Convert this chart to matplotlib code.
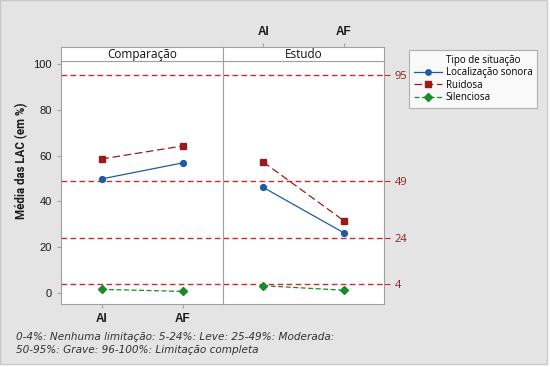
import matplotlib.pyplot as plt
from matplotlib.lines import Line2D
from matplotlib.patches import Rectangle

# Data
panels = ["Comparação", "Estudo"]
moments = ["AI", "AF"]
series = ["Localização sonora", "Ruidosa", "Silenciosa"]
comparacao = {
    "Localização sonora": [49.8, 56.8],
    "Ruidosa": [58.5, 64.2],
    "Silenciosa": [1.6, 0.7],
}
estudo = {
    "Localização sonora": [46.1, 26.3],
    "Ruidosa": [57.2, 31.6],
    "Silenciosa": [3.2, 1.2],
}
ref_lines = [95, 49, 24, 4]
yticks = [0, 20, 40, 60, 80, 100]
footnote = ("0-4%: Nenhuma limitação: 5-24%: Leve: 25-49%: Moderada:\n"
            "50-95%: Grave: 96-100%: Limitação completa")

styles = {
    "Localização sonora": dict(color="#1f5aa6", marker="o", ls="-", ms=4.2),
    "Ruidosa": dict(color="#9b1b1b", marker="s", ls=(0, (6, 3)), ms=5),
    "Silenciosa": dict(color="#1a8a2a", marker="D", ls=(0, (4, 2)), ms=4.2),
}
ref_color = "#cc2a2a"
frame_color = "#a0a0a0"
bg = "#e4e4e4"
tick_font = dict(family="Liberation Sans", size=8)

fig = plt.figure(figsize=(5.5, 3.67), dpi=100, facecolor="white")
fig.patches.append(Rectangle((0.0, 0.008), 0.995, 0.992, transform=fig.transFigure,
                             facecolor=bg, edgecolor="#c8c8c8", lw=1, zorder=-10))

x0, xm, x1 = 61 / 550, 223 / 550, 384 / 550
yb, yt, ys = 1 - 304 / 367, 1 - 61 / 367, 1 - 47 / 367

axes = []
for i, (name, data) in enumerate(zip(panels, [comparacao, estudo])):
    left = x0 if i == 0 else xm
    width = (xm - x0) if i == 0 else (x1 - xm)
    ax = fig.add_axes([left, yb, width, yt - yb])
    ax.set_xlim(-0.5, 1.5)
    ax.set_ylim(-4.8, 101.3)
    for r in ref_lines:
        ax.axhline(r, color=ref_color, ls=(0, (4, 2.5)), lw=1, zorder=1)
    for s in series:
        st = styles[s]
        ax.plot(range(len(moments)), data[s], color=st["color"], ls=st["ls"], lw=0.9,
                marker=st["marker"], ms=st["ms"], zorder=3)
    for sp in ax.spines.values():
        sp.set_color(frame_color)
        sp.set_linewidth(0.8)
    ax.tick_params(colors=frame_color, length=3, width=0.8, labelcolor="#1a1a1a")
    if i == 0:
        ax.set_xticks(range(len(moments)))
        ax.set_xticklabels(moments, fontweight="bold", fontsize=8.5, family="Liberation Sans")
        ax.set_yticks(yticks)
        ax.set_yticklabels([str(v) for v in yticks], **tick_font)
        ax.set_ylabel("Média das LAC (em %)", fontsize=8.3, fontweight="bold",
                      family="Roboto", color="#1a1a1a")
        ax.yaxis.set_label_coords(-0.205, 0.59)
    else:
        ax.set_xticks([])
        ax.yaxis.tick_right()
        ax.set_yticks(ref_lines)
        ax.set_yticklabels([str(v) for v in ref_lines], family="Open Sans", size=8)
        ax.tick_params(axis="y", colors=ref_color, labelcolor="#8b2020", length=4)
    # strip
    sax = fig.add_axes([left, yt, width, ys - yt])
    sax.set_xlim(-0.5, 1.5)
    sax.set_ylim(0, 1)
    sax.set_yticks([])
    sax.text(0.5, 0.45, name, ha="center", va="center", fontsize=8.5,
             family="Open Sans", color="#111111")
    for sp in sax.spines.values():
        sp.set_color(frame_color)
        sp.set_linewidth(0.8)
    if i == 1:
        sax.xaxis.tick_top()
        sax.set_xticks(range(len(moments)))
        sax.set_xticklabels(moments, fontweight="bold", fontsize=8.5, family="Liberation Sans")
        sax.tick_params(colors=frame_color, length=3, width=0.8, labelcolor="#1a1a1a")
    else:
        sax.set_xticks([])
    axes.append(ax)

# legend: title as a first entry without handle so it lines up with the labels
handles = [Line2D([], [], color="none")]
handles += [Line2D([], [], color=styles[s]["color"], ls=styles[s]["ls"], lw=0.9,
                   marker=styles[s]["marker"], ms=styles[s]["ms"] - 0.3) for s in series]
leg = fig.legend(handles, ["Tipo de situação"] + series, loc="upper left",
                 bbox_to_anchor=(404 / 550, 1 - 45 / 367), frameon=True,
                 fancybox=False, edgecolor=frame_color, handlelength=2.9,
                 borderpad=0.5, labelspacing=0.15, handletextpad=0.4,
                 prop={"family": "Open Sans", "size": 7})
leg.get_frame().set_linewidth(0.8)

fig.text(16 / 550, 1 - 332 / 367, footnote, fontsize=7.6, style="italic", color="#333333",
         va="top", ha="left", linespacing=1.35)

fig.savefig("out.png", dpi=100, facecolor="white")
